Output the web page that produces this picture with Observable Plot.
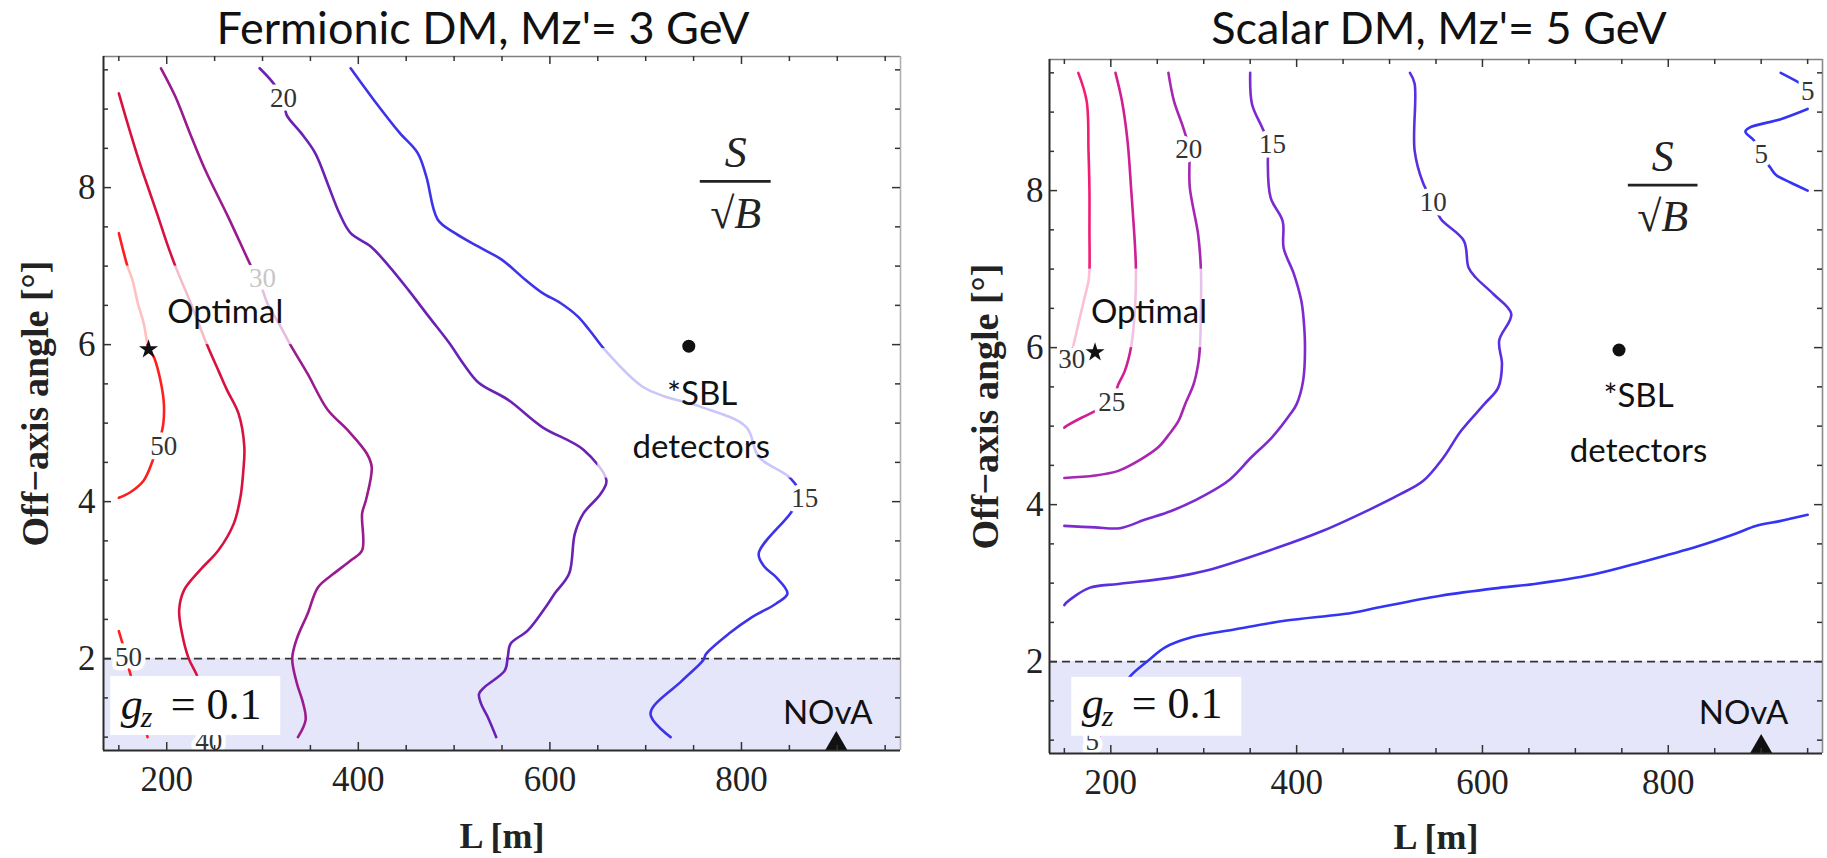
<!DOCTYPE html>
<html><head><meta charset="utf-8">
<script src="https://cdn.jsdelivr.net/npm/d3@7"></script>
<script src="https://cdn.jsdelivr.net/npm/@observablehq/plot@0.6"></script>
<style>
body{margin:0;background:#fff;}
#wrap{position:relative;width:1827px;height:858px;overflow:hidden;background:#fff;}
#wrap svg{position:absolute;top:0;overflow:visible;}
</style></head><body><div id="wrap"></div>
<script>
// ---------- axes ----------
const xDomain = [134, 966];
const yDomain = [0.83, 9.67];
const xTicks = [200, 400, 600, 800];
const xMinor = [150, 250, 300, 350, 450, 500, 550, 650, 700, 750, 850, 900, 950];
const yTicks = [2, 4, 6, 8];
const yMinor = [1, 1.5, 2.5, 3, 3.5, 4.5, 5, 5.5, 6.5, 7, 7.5, 8.5, 9, 9.5];
const cutAngle = 2;
const titles = ["Fermionic DM, Mz'= 3 GeV", "Scalar DM, Mz'= 5 GeV"];
const xLabel = "L [m]";
const yLabel = "Off\u2212axis angle [\u00b0]";

// ---------- Fermionic DM contours [L, angle] ----------
const ferm50a = [[150,7.42],[159,7.0],[164,6.83],[170,6.52],[176,6.27],[181,5.96],[187,5.83],[194,5.51],[197,5.25],[196.5,5.0],[193,4.8],[185,4.51],[176,4.27],[162,4.12],[150,4.05]];
const ferm50b = [[150,2.35],[156,2.1],[161,1.85],[168,1.55],[175,1.25],[180,1.0]];
const ferm40 = [[150,9.2],[162,8.7],[173,8.27],[182,7.95],[191,7.63],[200,7.3],[209,7.0],[226,6.5],[242,6.0],[255,5.64],[263,5.42],[275,5.12],[281,4.7],[280,4.4],[277,4.06],[270,3.72],[254,3.38],[235,3.13],[218,2.87],[213,2.62],[216,2.32],[223,2.0],[232,1.77],[238,1.4],[241,1.0]];
const ferm30 = [[194,9.52],[209,9.16],[224,8.7],[240,8.23],[264,7.63],[288,7.0],[298,6.76],[306,6.5],[318,6.25],[329,6.0],[347,5.63],[368,5.17],[389,4.91],[409,4.61],[414,4.44],[408,4.02],[404,3.85],[404,3.38],[392,3.25],[374,3.08],[358,2.91],[347,2.57],[336,2.26],[331,2.0],[336,1.68],[342,1.45],[345,1.22],[337,1.0]];
const ferm20 = [[297,9.52],[310,9.35],[322,9.14],[325,8.93],[340,8.7],[355,8.44],[368,8.05],[380,7.68],[392,7.42],[413,7.25],[432,7.0],[452,6.7],[474,6.35],[495,6.02],[510,5.75],[526,5.51],[556,5.3],[592,4.95],[635,4.66],[659,4.27],[653,4.1],[635,3.85],[626,3.59],[620,3.08],[605,2.83],[598,2.7],[577,2.36],[559,2.19],[556,2.02],[553,1.85],[532,1.64],[526,1.55],[528,1.43],[535,1.26],[544,1.0]];
const ferm15 = [[392,9.52],[416,9.12],[443,8.7],[462,8.44],[471,8.14],[483,7.59],[501,7.42],[525,7.25],[550,7.08],[574,6.83],[592,6.66],[611,6.53],[629,6.36],[641,6.19],[659,5.91],[696,5.47],[720,5.34],[757,5.21],[805,4.95],[818,4.57],[851,4.3],[862,4.07],[851,3.85],[818,3.34],[824,3.17],[836,3.04],[848,2.83],[836,2.7],[811,2.53],[787,2.32],[763,2.06],[760,1.98],[738,1.72],[705,1.3],[726,1.0]];
const fermLabels = [
  {L:197, v:4.70, t:"50"}, {L:160, v:2.02, t:"50"}, {L:244, v:0.95, t:"40"},
  {L:300, v:6.85, t:"30"}, {L:322, v:9.14, t:"20"}, {L:866, v:4.04, t:"15"}
];

// ---------- Scalar DM contours [L, angle] ----------
const scal30 = [[165,9.5],[174,9.14],[176,8.5],[177,8.0],[177,7.5],[177,6.98],[176,6.85],[171,6.6],[166,6.35],[161,6.09],[156,5.85],[150,5.7]];
const scal25 = [[205,9.5],[212,9.14],[218,8.63],[222,8.0],[226,7.3],[227,7.0],[226,6.5],[222,6.02],[215,5.7],[208,5.53],[201,5.3],[183,5.19],[169,5.11],[152,5.0],[150,4.98]];
const scal20 = [[262,9.5],[268,9.14],[278,8.8],[284,8.53],[285,8.04],[294,7.44],[297,6.98],[297,6.5],[296,6.02],[294,5.79],[289,5.53],[280,5.28],[273,5.07],[263,4.9],[251,4.73],[230,4.56],[208,4.43],[183,4.37],[150,4.34]];
const scal15 = [[350,9.5],[352,9.1],[363,8.8],[370,8.6],[369,8.38],[372,7.91],[385,7.61],[386,7.27],[397,6.94],[405,6.6],[407,6.43],[409,6.0],[407,5.58],[400,5.28],[393,5.15],[373,4.85],[351,4.6],[326,4.3],[290,4.05],[265,3.92],[237,3.81],[210,3.7],[183,3.71],[150,3.73]];
const scal10 = [[522,9.5],[527,9.36],[527,8.51],[536,8.1],[547,7.85],[555,7.64],[580,7.36],[585,7.02],[593,6.89],[612,6.68],[631,6.43],[618,6.09],[621,5.79],[617,5.49],[602,5.28],[577,4.94],[558,4.6],[536,4.3],[511,4.13],[479,3.94],[429,3.67],[379,3.45],[303,3.16],[265,3.07],[208,2.99],[177,2.94],[152,2.75],[150,2.72]];
const scal5a = [[185,1.0],[200,1.3],[212,1.6],[220,1.8],[240,2.01],[258,2.18],[287,2.31],[333,2.41],[387,2.52],[459,2.62],[492,2.7],[555,2.84],[618,2.94],[656,2.99],[719,3.11],[775,3.28],[832,3.47],[870,3.62],[895,3.73],[920,3.79],[950,3.87]];
const scal5b = [[921,9.5],[943,9.36],[950,9.3]];
const scal5c = [[950,9.04],[921,8.91],[887,8.8],[883,8.75],[893,8.63],[900,8.46],[910,8.29],[916,8.2],[932,8.1],[950,8.0]];
const scalLabels = [
  {L:158, v:5.85, t:"30"}, {L:201, v:5.30, t:"25"}, {L:284, v:8.53, t:"20"},
  {L:374, v:8.59, t:"15"}, {L:547, v:7.85, t:"10"}, {L:950, v:9.27, t:"5"},
  {L:900, v:8.46, t:"5"}, {L:180, v:0.99, t:"5"}
];

// ---------- annotations ----------
const fermNotes = [{L:261, v:6.27, t:"Optimal"}, {L:759, v:5.23, t:"*SBL"}, {L:758, v:4.55, t:"detectors"}, {L:890, v:1.17, t:"NOvA"}];
const scalNotes = [{L:241, v:6.31, t:"Optimal"}, {L:768, v:5.24, t:"*SBL"}, {L:768, v:4.54, t:"detectors"}, {L:881, v:1.20, t:"NOvA"}];
const fermFade = [{x1:134, x2:335, y1:6.0, y2:7.0}, {x1:650, x2:862, y1:4.3, y2:5.95}];
const scalFade = [{x1:134, x2:330, y1:6.0, y2:7.0}, {x1:680, x2:860, y1:4.3, y2:5.95}];
const fermStar = {L:181, v:5.94}, scalStar = {L:183, v:5.94};
const fermSBL = {L:745, v:5.98}, scalSBL = {L:747, v:5.97};
const fermNova = {L:899, v:0.91}, scalNova = {L:900, v:0.91};
const fermFrac = {L:794, L1:757, L2:831, vS:8.26, vBar:8.08, vB:7.49};
const scalFrac = {L:794, L1:757, L2:832, vS:8.25, vBar:8.07, vB:7.48};
const fermGzBox = {x1:141.5, x2:319, y1:1.02, y2:1.774};
const scalGzBox = {x1:158, x2:341, y1:1.05, y2:1.80};
const fermGz = {L:152, v:1.227}, scalGz = {L:168.6, v:1.287};

// ---------- styles ----------
const fermColors = {50:"#ff1e1e", 40:"#d8123f", 30:"#9b1b8e", 20:"#6a22b4", 15:"#3f33ea"};
const scalColors = {30:"#f21c74", 25:"#cf1f93", 20:"#a726b2", 15:"#7b2bd0", 10:"#5a2fe0", 5:"#3434f4"};
const SERIF = "'Liberation Serif','Times New Roman',serif";
const SANS = "Lato,'Open Sans',sans-serif";

function panel(p) {
  const rows = p.contours.flatMap((c, i) => c.pts.map(([L, v]) => ({L, v, id: i, color: p.colors[c.level]})));
  const H = 858;
  const fw = p.width - p.ml - p.mr, fh = H - p.mt - p.mb;
  const tk = {stroke: "#333", strokeWidth: 1.5};
  return Plot.plot({
    width: p.width, height: H,
    marginLeft: p.ml, marginRight: p.mr, marginTop: p.mt, marginBottom: p.mb,
    x: {domain: xDomain}, y: {domain: yDomain}, color: {type: "identity"},
    style: {fontFamily: SERIF, fontSize: "35px", color: "#222", background: "transparent", overflow: "visible"},
    marks: [
      Plot.rect([{x1: xDomain[0], x2: xDomain[1], y1: yDomain[0], y2: cutAngle}], {x1: "x1", x2: "x2", y1: "y1", y2: "y2", fill: "#e6e6fa"}),
      Plot.ruleY([cutAngle], {stroke: "#333", strokeWidth: 1.8, strokeDasharray: "8,5"}),
      Plot.line(rows, {x: "L", y: "v", z: "id", stroke: "color", strokeWidth: 2.6, curve: "catmull-rom"}),
      Plot.text(p.labels, {x: "L", y: "v", text: "t", fontSize: 27, fontFamily: SERIF, fill: "#333", stroke: "white", strokeWidth: 9, strokeLinejoin: "round", paintOrder: "stroke"}),
      Plot.rect(p.fade, {x1: "x1", x2: "x2", y1: "y1", y2: "y2", fill: "white", fillOpacity: 0.72}),
      Plot.text(p.notes, {x: "L", y: "v", text: "t", fontFamily: SANS, fontSize: 33, fill: "#111", lineAnchor: "bottom"}),
      Plot.dot([p.star], {x: "L", y: "v", symbol: "star", r: 6, fill: "#111"}),
      Plot.dot([p.sbl], {x: "L", y: "v", r: 6.5, fill: "#111"}),
      Plot.dot([p.nova], {x: "L", y: "v", symbol: "triangle", r: 8.5, fill: "#111"}),
      Plot.text([p.frac], {x: "L", y: "vS", text: () => "S", fontStyle: "italic", fontSize: 44, fontFamily: SERIF, fill: "#222", lineAnchor: "bottom"}),
      Plot.ruleY([p.frac], {y: "vBar", x1: "L1", x2: "L2", stroke: "#222", strokeWidth: 2.6}),
      Plot.text([p.frac], {x: "L", y: "vB", text: () => "\u221aB", fontStyle: "italic", fontSize: 44, fontFamily: SERIF, fill: "#222", lineAnchor: "bottom"}),
      Plot.rect([p.gzBox], {x1: "x1", x2: "x2", y1: "y1", y2: "y2", fill: "white"}),
      Plot.text([p.gz], {x: "L", y: "v", text: () => "g", fontStyle: "italic", fontSize: 44, fontFamily: SERIF, fill: "#111", textAnchor: "start", lineAnchor: "bottom"}),
      Plot.text([p.gz], {x: "L", y: "v", text: () => "z", fontStyle: "italic", fontSize: 30, fontFamily: SERIF, fill: "#111", textAnchor: "start", lineAnchor: "bottom", dx: 20, dy: 8}),
      Plot.text([p.gz], {x: "L", y: "v", text: () => "= 0.1", fontSize: 44, fontFamily: SERIF, fill: "#111", textAnchor: "start", lineAnchor: "bottom", dx: 50}),
      // frame
      Plot.ruleY([yDomain[1]], {stroke: "#808080", strokeWidth: 1.6}),
      Plot.ruleX([xDomain[1]], {stroke: p.rightFrame, strokeWidth: 1.6}),
      Plot.ruleX([xDomain[0]], {stroke: "#2a2a2a", strokeWidth: 2}),
      Plot.ruleY([yDomain[0]], {stroke: "#2a2a2a", strokeWidth: 2}),
      Plot.tickX(xTicks, {x: d => d, insetTop: fh - 8, ...tk}),
      Plot.tickX(xMinor, {x: d => d, insetTop: fh - 5, ...tk}),
      Plot.tickX(xTicks, {x: d => d, insetBottom: fh - 8, ...tk}),
      Plot.tickX(xMinor, {x: d => d, insetBottom: fh - 5, ...tk}),
      Plot.tickY(yTicks, {y: d => d, insetRight: fw - 8, ...tk}),
      Plot.tickY(yMinor, {y: d => d, insetRight: fw - 5, ...tk}),
      Plot.tickY(yTicks, {y: d => d, insetLeft: fw - 8, ...tk}),
      Plot.tickY(yMinor, {y: d => d, insetLeft: fw - 5, ...tk}),
      Plot.axisX({ticks: xTicks, anchor: "bottom", tickSize: 0, tickPadding: 16, label: null, fontSize: 35, fontFamily: SERIF}),
      Plot.axisY({ticks: yTicks, anchor: "left", tickSize: 0, tickPadding: p.yPad, label: null, fontSize: 35, fontFamily: SERIF}),
      Plot.text([p.title], {frameAnchor: "top", text: d => d, dx: p.titleDx, dy: p.titleDy, textAnchor: "middle", lineAnchor: "bottom", fontFamily: SANS, fontSize: 45, fill: "#111"}),
      Plot.text([xLabel], {frameAnchor: "bottom", text: d => d, dy: p.xLabDy, textAnchor: "middle", lineAnchor: "bottom", fontFamily: SERIF, fontWeight: "bold", fontSize: 36, fill: "#222"}),
      Plot.text([yLabel], {frameAnchor: "left", text: d => d, rotate: -90, dx: p.yLabDx, textAnchor: "middle", lineAnchor: "middle", fontFamily: SERIF, fontWeight: "bold", fontSize: 38, fill: "#222"})
    ]
  });
}

const wrap = document.getElementById("wrap");
const left = panel({
  width: 910, ml: 103, mr: 10, mt: 56, mb: 108, yPad: 8, rightFrame: "#b0b0b0",
  title: titles[0], titleDx: -19, titleDy: -13, xLabDy: 97, yLabDx: -68,
  colors: fermColors,
  contours: [{level:50, pts:ferm50a}, {level:50, pts:ferm50b}, {level:40, pts:ferm40}, {level:30, pts:ferm30}, {level:20, pts:ferm20}, {level:15, pts:ferm15}],
  labels: fermLabels, notes: fermNotes, fade: fermFade, star: fermStar, sbl: fermSBL, nova: fermNova,
  frac: fermFrac, gzBox: fermGzBox, gz: fermGz
});
left.style.left = "0px";
wrap.appendChild(left);
const right = panel({
  width: 913, ml: 135, mr: 5, mt: 59, mb: 105, yPad: 6, rightFrame: "#8a8a8a",
  title: titles[1], titleDx: 3, titleDy: -16, xLabDy: 95, yLabDx: -64,
  colors: scalColors,
  contours: [{level:30, pts:scal30}, {level:25, pts:scal25}, {level:20, pts:scal20}, {level:15, pts:scal15}, {level:10, pts:scal10}, {level:5, pts:scal5a}, {level:5, pts:scal5b}, {level:5, pts:scal5c}],
  labels: scalLabels, notes: scalNotes, fade: scalFade, star: scalStar, sbl: scalSBL, nova: scalNova,
  frac: scalFrac, gzBox: scalGzBox, gz: scalGz
});
right.style.left = "914px";
wrap.appendChild(right);
</script></body></html>
